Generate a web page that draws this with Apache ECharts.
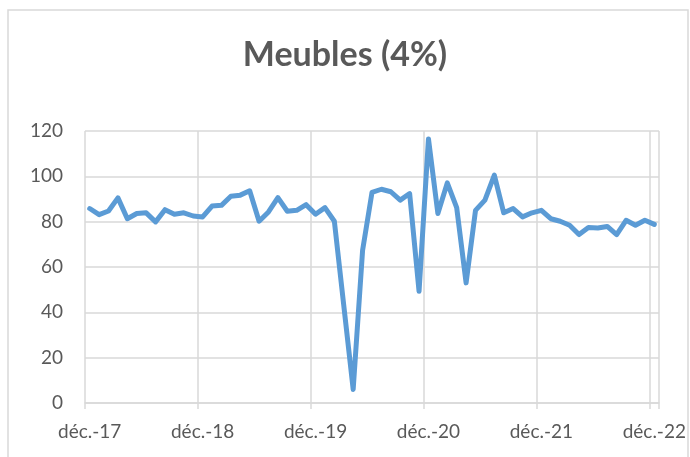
<!DOCTYPE html>
<html>
<head>
<meta charset="utf-8">
<script src="https://cdn.jsdelivr.net/npm/echarts@6/dist/echarts.min.js"></script>
<style>
  html, body { margin: 0; padding: 0; background: #fff; }
  #chart { width: 690px; height: 457px; }
</style>
</head>
<body>
<div id="chart"></div>
<script>
const monthNames = ['janv.', 'févr.', 'mars', 'avr.', 'mai', 'juin', 'juil.', 'août', 'sept.', 'oct.', 'nov.', 'déc.']

// déc.-17 .. déc.-22, monthly
const categories = []
for (let i = 0; i < 61; i++) {
  const m = (11 + i) % 12
  const y = 17 + Math.floor((11 + i) / 12)
  categories.push(monthNames[m] + '-' + y)
}

const values = [
  85.8, 83.1, 84.7, 90.5, 81.3, 83.6, 83.9, 79.9, 85.3, 83.3, 83.9, 82.5,
  82.1, 86.9, 87.2, 91.2, 91.7, 93.6, 80.2, 84.3, 90.6, 84.6, 85.0, 87.5,
  83.3, 86.2, 80.2, 43.0, 6.0, 67.3, 92.9, 94.3, 93.2, 89.5, 92.4, 49.3,
  116.5, 83.6, 97.1, 86.2, 53.0, 85.0, 89.5, 100.5, 83.9, 85.8, 82.1, 83.9,
  85.0, 81.3, 80.2, 78.4, 74.3, 77.4, 77.2, 77.9, 74.3, 80.6, 78.4, 80.6,
  78.8
]

const yTicks = [0, 20, 40, 60, 80, 100, 120]

const yearly = (i) => i % 12 === 0 && i <= 60

const chart = echarts.init(document.getElementById('chart'))

const option = {
  backgroundColor: '#ffffff',
  animation: false,
  title: {
    text: 'Meubles (4%)',
    left: 'center',
    top: 33,
    textStyle: {
      fontFamily: 'Lato',
      fontWeight: 'bold',
      fontSize: 34,
      color: '#595959'
    }
  },
  graphic: [{
    type: 'rect',
    shape: { x: 8, y: 10, width: 680, height: 460 },
    style: { fill: 'none', stroke: '#d9d9d9', lineWidth: 1.5 },
    silent: true
  }],
  grid: {
    left: 85,
    right: 31,
    top: 131,
    bottom: 54
  },
  xAxis: {
    type: 'category',
    data: categories,
    boundaryGap: true,
    axisLine: {
      lineStyle: { color: '#d9d9d9', width: 1.5 }
    },
    axisTick: {
      show: true,
      length: 6,
      interval: yearly,
      lineStyle: { color: '#d9d9d9', width: 1.5 }
    },
    splitLine: {
      show: true,
      interval: yearly,
      lineStyle: { color: '#d9d9d9', width: 1.5 }
    },
    axisLabel: {
      interval: yearly,
      color: '#595959',
      fontFamily: 'Lato',
      fontSize: 19,
      margin: 19
    }
  },
  yAxis: {
    type: 'value',
    min: yTicks[0],
    max: yTicks[yTicks.length - 1],
    interval: 20,
    axisLine: { show: false },
    axisTick: { show: false },
    splitLine: {
      lineStyle: { color: '#d9d9d9', width: 1.5 }
    },
    axisLabel: {
      color: '#595959',
      fontFamily: 'Lato',
      fontSize: 19,
      margin: 22
    }
  },
  series: [{
    name: 'Meubles',
    type: 'line',
    data: values,
    symbol: 'none',
    lineStyle: {
      color: '#5b9bd5',
      width: 5,
      join: 'round',
      cap: 'round'
    }
  }]
}

chart.setOption(option)
</script>
</body>
</html>
